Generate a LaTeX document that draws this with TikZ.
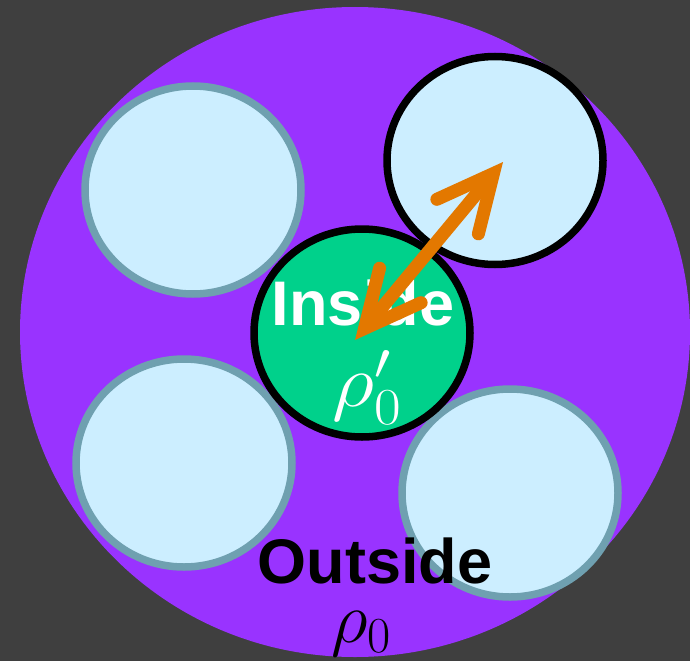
\RequirePackage{fix-cm}
\documentclass[tikz,border=0pt]{standalone}
\usepackage{fontspec}
\usepackage{amsmath}
\usepackage{xcolor}
\usetikzlibrary{shapes.geometric,arrows.meta}
\newfontfamily\labelfont{Liberation Sans}
\definecolor{bggray}{HTML}{3F3F3F}
\definecolor{bulkviolet}{HTML}{9933FF}
\definecolor{cellblue}{HTML}{CCEEFF}
\definecolor{cellrim}{HTML}{6FA0B0}
\definecolor{coregreen}{HTML}{00D18B}
\definecolor{jumporange}{HTML}{E37800}

\begin{document}
\begin{tikzpicture}[x=1pt,y=-1pt,
  bulk/.style={ellipse,fill=bulkviolet,inner sep=0pt,minimum width=670pt,minimum height=650pt},
  cell/.style={ellipse,fill=cellblue,draw=cellrim,line width=7.5pt,inner sep=0pt,minimum width=216pt,minimum height=208pt},
  core/.style={cell,fill=coregreen,draw=black},
  bigword/.style={font=\labelfont\bfseries\fontsize{63}{63}\selectfont,anchor=base},
  dens/.style={font=\fontsize{72}{72}\selectfont,anchor=base},
  hop/.style={jumporange,line width=13pt,{Straight Barb[length=56pt,width=54pt,line cap=round,line join=miter]}-{Straight Barb[length=56pt,width=54pt,line cap=round,line join=miter]}}]
  \useasboundingbox (0,0) rectangle (690,661);
  \clip (0,0) rectangle (690,661);
  \fill[bggray] (0,0) rectangle (690,661);
  \node[bulk] (outer) at (355,332) {};
  \node[cell] (cellnw) at (193,190) {};
  \node[cell,draw=black] (cellne) at (495,160.5) {};
  \node[cell] (cellsw) at (184,463) {};
  \node[cell] (cellse) at (510,493) {};
  \node[core] (inner) at (362,333) {};
  \node[bigword,text=white] (insidelbl) at (363,325) {Inside};
  \node[dens,text=white] (rhoin) at (367,406) {\scalebox{1.15}[1.03]{$\rho'_0$}};
  \node[bigword,text=black] (outsidelbl) at (375,583) {Outside};
  \node[dens,text=black] (rhoout) at (361,642) {$\rho_0$};
  \draw[hop] ([shift={(-7,7)}]inner.center) -- ([shift={(8,1.5)}]cellne.center);
\end{tikzpicture}
\end{document}
